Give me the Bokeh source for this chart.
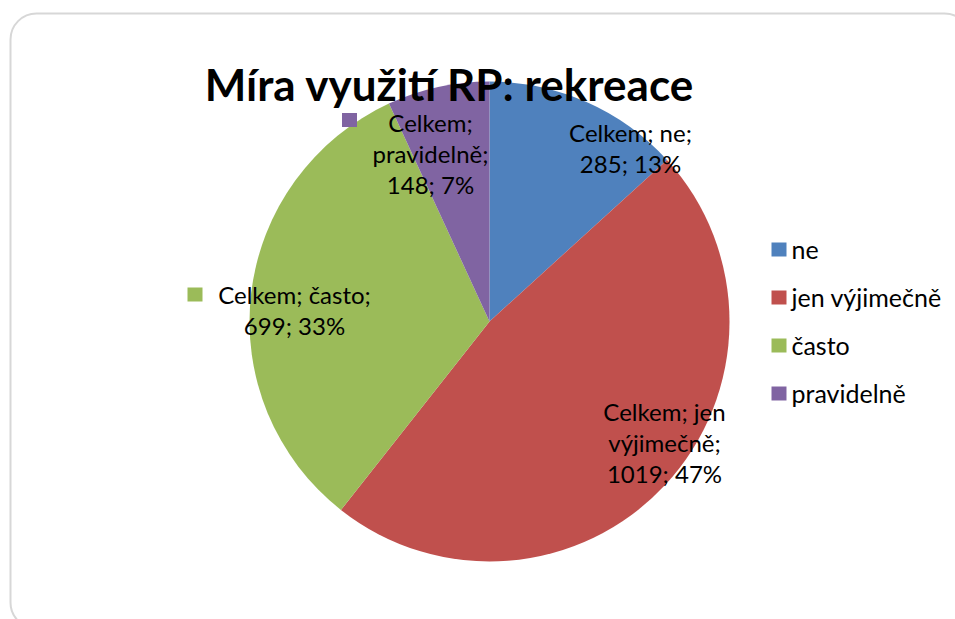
import math
from bokeh.plotting import figure
from bokeh.models import Range1d, BoxAnnotation
from bokeh.core.properties import value
from bokeh.embed import file_html
from bokeh.resources import INLINE

# ---- data ----
title = "Míra využití RP: rekreace"
series_name = "Celkem"
categories = ["ne", "jen výjimečně", "často", "pravidelně"]
counts = [285, 1019, 699, 148]
percents = [13, 47, 33, 7]
colors = ["#4F81BD", "#C0504D", "#9BBB59", "#8064A2"]

# ---- layout (page pixel coordinates) ----
W, H = 955, 619
def Y(py):
    return H - py

FONT = "Lato"
cx, cy, R = 489, 321, 240

p = figure(width=W, height=H, output_backend="svg", toolbar_location=None,
           x_range=Range1d(0, W), y_range=Range1d(0, H),
           min_border=0, outline_line_color=None, background_fill_color="white",
           border_fill_color="white")
p.axis.visible = False
p.xgrid.visible = False
p.ygrid.visible = False

# rounded border
p.add_layout(BoxAnnotation(left=10, right=970, top=Y(13), bottom=Y(628),
                           fill_color=None, line_color="#7a7a7a", line_width=2,
                           border_radius=26))

# pie wedges
total = sum(counts)
starts, ends = [], []
cum = 0
for c in counts:
    starts.append(math.pi / 2 - 2 * math.pi * cum / total)
    cum += c
    ends.append(math.pi / 2 - 2 * math.pi * cum / total)
p.wedge(x=[cx] * 4, y=[Y(cy)] * 4, radius=R, start_angle=starts, end_angle=ends,
        direction="clock", fill_color=colors, line_color=None)

# title
p.text(x=[449], y=[Y(83)], text=[title], text_font=value(FONT), text_font_style="bold",
       text_font_size="44px", text_align="center", text_baseline="middle",
       text_color="black")

# data labels
groups = [[2, 2], [2, 1, 2], [2, 2], [1, 1, 2]]
label_pos = [(630, 132), (664, 411), (294, 294), (430, 122)]
line_gap = 31
lx, ly, lt = [], [], []
for i, cat in enumerate(categories):
    tokens = f"{series_name}; {cat}; {counts[i]}; {percents[i]}%".split(" ")
    lines, k = [], 0
    for g in groups[i]:
        lines.append(" ".join(tokens[k:k + g]))
        k += g
    x0, y0 = label_pos[i]
    for j, line in enumerate(lines):
        lx.append(x0)
        ly.append(Y(y0 + j * line_gap))
        lt.append(line)
p.text(x=lx, y=ly, text=lt, text_font=value(FONT), text_font_size="24px",
       text_align="center", text_baseline="middle", text_color="black")

# legend keys inside labels (často, pravidelně)
p.rect(x=[194.5, 349], y=[Y(294), Y(119.5)], width=15, height=14,
       fill_color=[colors[2], colors[3]], line_color=None)

# legend
leg_y = [249 + 48 * i for i in range(len(categories))]
p.rect(x=[778.5] * 4, y=[Y(v) for v in leg_y], width=15, height=14,
       fill_color=colors, line_color=None)
p.text(x=[791] * 4, y=[Y(v - 1) for v in leg_y], text=categories, text_font=value(FONT),
       text_font_size="25px", text_align="left", text_baseline="middle",
       text_color="black")

open("out.html", "w").write(file_html(p, INLINE))
